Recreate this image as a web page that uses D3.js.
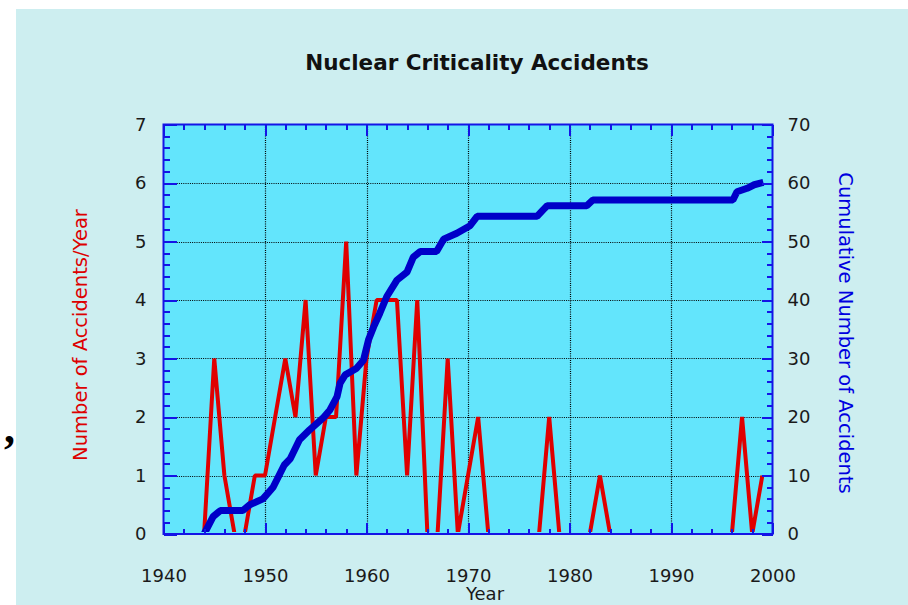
<!DOCTYPE html>
<html>
<head>
<meta charset="utf-8">
<script src="https://cdn.jsdelivr.net/npm/d3@7"></script>
<style>
body { margin: 0; background: #fff; }
text { font-family: "DejaVu Sans", sans-serif; }
</style>
</head>
<body>
<svg id="chart" width="908" height="605"></svg>
<script>
// accidents per calendar year (red curve)
let years = [1944, 1945, 1946, 1947, 1948, 1949, 1950, 1951, 1952, 1953,
    1954, 1955, 1956, 1957, 1958, 1959, 1960, 1961, 1962, 1963,
    1964, 1965, 1966, 1967, 1968, 1969, 1970, 1971, 1972, 1973,
    1974, 1975, 1976, 1977, 1978, 1979, 1980, 1981, 1982, 1983,
    1984, 1985, 1986, 1987, 1988, 1989, 1990, 1991, 1992, 1993,
    1994, 1995, 1996, 1997, 1998, 1999]
let accidents = [0, 3, 1, 0, 0, 1, 1, 2, 3, 2,
    4, 1, 2, 2, 5, 1, 3, 4, 4, 4,
    1, 4, 0, 0, 3, 0, 1, 2, 0, 0,
    0, 0, 0, 0, 2, 0, 0, 0, 0, 1,
    0, 0, 0, 0, 0, 0, 0, 0, 0, 0,
    0, 0, 0, 2, 0, 1]

// cumulative number (blue curve)
let cumYears = [1944.0, 1944.9, 1945.6, 1947.8, 1948.5, 1949.8, 1950.8, 1951.9, 1952.5, 1953.4,
    1954.4, 1955.7, 1956.4, 1957.1, 1957.4, 1957.9, 1959.0, 1959.7, 1960.2, 1960.7,
    1961.3, 1962.0, 1963.0, 1964.0, 1964.6, 1965.3, 1966.9, 1967.6, 1968.9, 1970.2,
    1970.9, 1976.8, 1977.4, 1977.8, 1981.7, 1982.3, 1996.1, 1996.5, 1997.5, 1998.2, 1999.1]
let cumCounts = [0, 3, 4, 4, 5, 6, 8, 11.8, 12.9, 16.1,
    17.8, 19.8, 21.2, 23.5, 25.8, 27.2, 28.3, 29.7, 33.2, 35.4,
    37.7, 40.6, 43.4, 44.8, 47.3, 48.3, 48.3, 50.4, 51.4, 52.7,
    54.3, 54.3, 55.4, 56.1, 56.1, 57.1, 57.1, 58.5, 59.1, 59.7, 60.1]

let xTicks = [1940, 1950, 1960, 1970, 1980, 1990, 2000]
let yTicks = [0, 1, 2, 3, 4, 5, 6, 7]
let y2Ticks = [0, 10, 20, 30, 40, 50, 60, 70]

let svg = d3.select("#chart")
let pl = 163.5, pr = 772.5, pt = 124.5, pb = 534
let axisColor = "#1414e6"

let x = d3.scaleLinear().domain([1940, 2000]).range([pl, pr])
let y = d3.scaleLinear().domain([0, 7]).range([pb, pt])
let y2 = d3.scaleLinear().domain([0, 70]).range([pb, pt])

// backgrounds
svg.append("rect").attr("x", 16).attr("y", 9).attr("width", 892).attr("height", 596)
    .style("fill", "#cdeef0")
svg.append("rect").attr("x", pl).attr("y", pt).attr("width", pr - pl).attr("height", pb - pt)
    .style("fill", "#63e5fc")

// dotted grid
let grid = svg.append("g").style("stroke", "#000").style("stroke-width", 1.2)
    .style("stroke-dasharray", "1,1.2")
grid.selectAll(".gx").data(xTicks.slice(1, -1)).enter().append("line")
    .attr("x1", d => Math.round(x(d)) + 0.5).attr("x2", d => Math.round(x(d)) + 0.5)
    .attr("y1", pt).attr("y2", pb)
grid.selectAll(".gy").data(yTicks.slice(1, -1)).enter().append("line")
    .attr("y1", d => Math.round(y(d)) + 0.5).attr("y2", d => Math.round(y(d)) + 0.5)
    .attr("x1", pl).attr("x2", pr)

svg.append("clipPath").attr("id", "plotclip").append("rect")
    .attr("x", pl).attr("y", pt).attr("width", pr - pl).attr("height", pb - pt - 2)

// red: accidents per year
let redLine = d3.line().x((d, i) => x(years[i])).y(d => y(d))
svg.append("path").datum(accidents)
    .attr("clip-path", "url(#plotclip)")
    .attr("d", redLine)
    .style("fill", "none").style("stroke", "#e00000").style("stroke-width", 4)
    .style("stroke-linejoin", "bevel")

// blue: cumulative
let blueLine = d3.line().x((d, i) => x(cumYears[i])).y(d => y2(d))
svg.append("path").datum(cumCounts)
    .attr("clip-path", "url(#plotclip)")
    .attr("d", blueLine)
    .style("fill", "none").style("stroke", "#0000c8").style("stroke-width", 7)
    .style("stroke-linejoin", "bevel")

// axes with inward ticks
let minorX = d3.range(1942, 2000, 2)
let minorY = d3.range(0.2, 7, 0.2)
let minorY2 = d3.range(2, 70, 2)

function styleAxis(g, labelled) {
    g.select(".domain").remove()
    g.selectAll("line").style("stroke", axisColor).style("stroke-width", 2)
        .attr("shape-rendering", "crispEdges")
    g.selectAll("text").style("font-family", "'DejaVu Sans', sans-serif")
        .style("font-size", "18px").style("fill", "#1a1a1a")
    if (!labelled) g.selectAll("text").remove()
}

svg.append("g").attr("transform", "translate(0," + pb + ")")
    .call(d3.axisBottom(x).tickValues(minorX).tickSize(-5).tickSizeOuter(0))
    .call(g => styleAxis(g, false))
svg.append("g").attr("transform", "translate(0," + pb + ")")
    .call(d3.axisBottom(x).tickValues(xTicks).tickSize(-11).tickSizeOuter(0)
        .tickPadding(35).tickFormat(d3.format("d")))
    .call(g => styleAxis(g, true))
svg.append("g").attr("transform", "translate(0," + pt + ")")
    .call(d3.axisTop(x).tickValues(minorX).tickSize(-5).tickSizeOuter(0))
    .call(g => styleAxis(g, false))
svg.append("g").attr("transform", "translate(0," + pt + ")")
    .call(d3.axisTop(x).tickValues(xTicks).tickSize(-11).tickSizeOuter(0))
    .call(g => styleAxis(g, false))

svg.append("g").attr("transform", "translate(" + pl + ",0)")
    .call(d3.axisLeft(y).tickValues(minorY).tickSize(-6).tickSizeOuter(0))
    .call(g => styleAxis(g, false))
svg.append("g").attr("transform", "translate(" + pl + ",0)")
    .call(d3.axisLeft(y).tickValues(yTicks).tickSize(-13).tickSizeOuter(0)
        .tickPadding(17).tickFormat(d3.format("d")))
    .call(g => styleAxis(g, true))
svg.append("g").attr("transform", "translate(" + pr + ",0)")
    .call(d3.axisRight(y2).tickValues(minorY2).tickSize(-6).tickSizeOuter(0))
    .call(g => styleAxis(g, false))
svg.append("g").attr("transform", "translate(" + pr + ",0)")
    .call(d3.axisRight(y2).tickValues(y2Ticks).tickSize(-11).tickSizeOuter(0)
        .tickPadding(15).tickFormat(d3.format("d")))
    .call(g => styleAxis(g, true))

// frame
svg.append("rect").attr("x", pl).attr("y", pt).attr("width", pr - pl).attr("height", pb - pt)
    .style("fill", "none").style("stroke", axisColor).style("stroke-width", 2)

// titles
svg.append("text").attr("x", 477).attr("y", 70).attr("text-anchor", "middle")
    .style("font-size", "21.5px").style("font-weight", "bold").style("fill", "#111")
    .text("Nuclear Criticality Accidents")
svg.append("text").attr("transform", "translate(87,335)rotate(-90)").attr("text-anchor", "middle")
    .style("font-size", "19.5px").style("fill", "#dd0000")
    .text("Number of Accidents/Year")
svg.append("text").attr("transform", "translate(839,333)rotate(90)").attr("text-anchor", "middle")
    .style("font-size", "19.5px").style("fill", "#0000e0")
    .text("Cumulative Number of Accidents")
svg.append("text").attr("x", 485).attr("y", 600).attr("text-anchor", "middle")
    .style("font-size", "18px").style("fill", "#1a1a1a")
    .text("Year")

svg.append("text").attr("x", 4).attr("y", 443)
    .style("font-family", "'Liberation Serif', serif").style("font-weight", "bold")
    .style("font-size", "44px").style("fill", "#000")
    .text(",")
</script>
</body>
</html>
